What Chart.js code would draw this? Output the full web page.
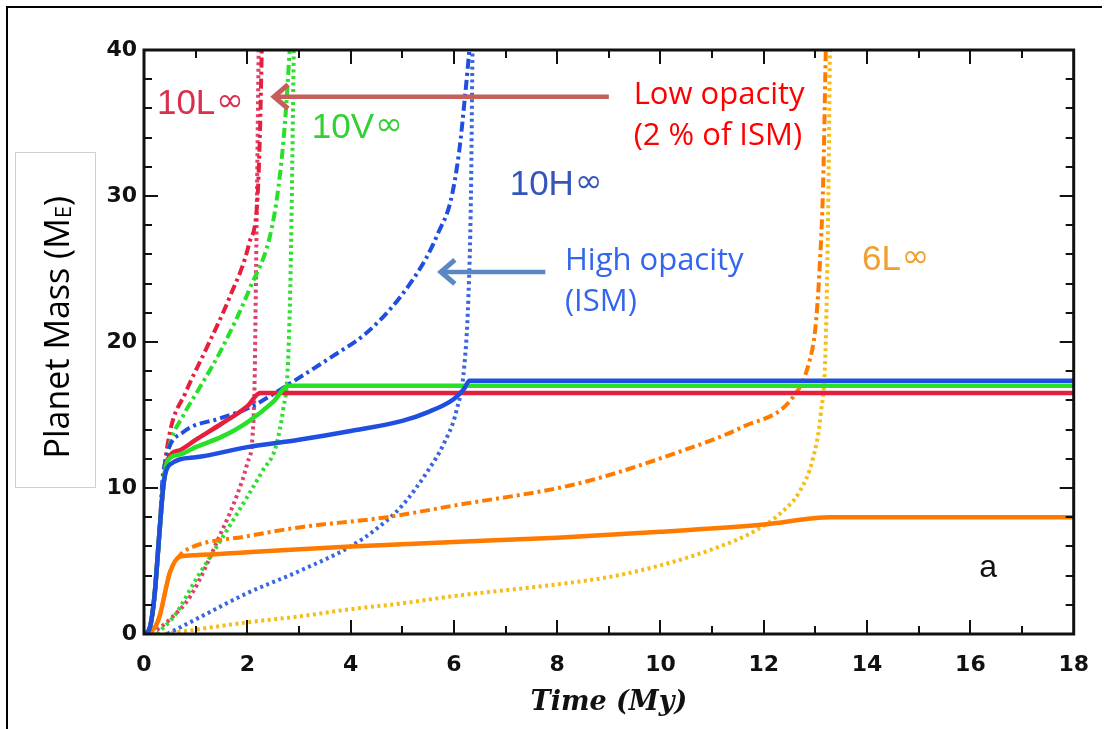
<!DOCTYPE html>
<html lang="en">
<head>
<meta charset="UTF-8">
<title>Planet Mass vs Time</title>
<script src="https://cdn.jsdelivr.net/npm/chart.js@4.4.1/dist/chart.umd.min.js"></script>
<style>
    body { margin: 0; background: #fff; }
    #wrap { position: relative; width: 1107px; height: 729px; overflow: hidden; }
    #frame {
        position: absolute; left: 6px; top: 6px; width: 1094px; height: 740px;
        border-top: 2px solid #000; border-left: 2px solid #000;
    }
    #ylabel {
        position: absolute; left: 15px; top: 152px; width: 79px; height: 334px;
        border: 1px solid #cfcfcf; display: flex; align-items: center; justify-content: center;
    }
    #ylabel span {
        writing-mode: vertical-rl; transform: rotate(180deg);
        font-family: "Open Sans", sans-serif; font-size: 34px; color: #000; white-space: nowrap;
        margin-top: 14px;
    }
    #ylabel sub { font-size: 22px; vertical-align: -6px; }
    canvas { position: absolute; left: 0; top: 0; }
</style>
</head>
<body>
<div id="wrap">
    <div id="frame"></div>
    <canvas id="massChart" width="1107" height="729"></canvas>
    <div id="ylabel"><span>Planet Mass (M<sub>E</sub>)</span></div>
</div>

<script>
    // axis ticks
    const timeTicks = [0, 2, 4, 6, 8, 10, 12, 14, 16, 18];
    const massTicks = [0, 10, 20, 30, 40];

    // 10L (low opacity) - core, envelope, total mass
    const t10L_core = [0, 0.1, 0.2, 0.3, 0.37, 0.45, 0.7, 1.0, 1.5, 2.0, 2.25, 18];
    const m10L_core = [0, 0.3, 2.5, 7, 10, 11.9, 12.6, 13.3, 14.4, 15.6, 16.5, 16.5];
    const t10L_env = [0, 0.1, 0.2, 0.3, 0.37, 0.5, 0.8, 1.2, 1.65, 2.04, 2.2, 2.25, 2.28];
    const m10L_env = [0, 0.3, 2.5, 7, 10.5, 13.8, 16.5, 19.5, 23, 26.8, 30, 35, 40];
    const t10L_tot = [0.15, 0.5, 0.9, 1.5, 1.8, 2.0, 2.1, 2.14, 2.17, 2.22];
    const m10L_tot = [0, 1, 2.6, 7, 9.5, 11.7, 13.5, 17, 25, 40];

    // 10V
    const t10V_core = [0, 0.1, 0.2, 0.3, 0.37, 0.45, 0.7, 1.0, 1.5, 2.0, 2.5, 2.8, 18];
    const m10V_core = [0, 0.3, 2.5, 7, 10, 11.8, 12.3, 12.8, 13.5, 14.5, 15.9, 17.0, 17.0];
    const t10V_env = [0, 0.1, 0.2, 0.3, 0.37, 0.5, 0.75, 1.1, 1.5, 2.04, 2.48, 2.65, 2.75, 2.82];
    const m10V_env = [0, 0.3, 2.5, 7, 10.5, 13, 14.9, 17, 19.5, 23.6, 27.9, 32, 36, 40];
    const t10V_tot = [0.25, 0.6, 1.0, 1.5, 2.0, 2.3, 2.55, 2.7, 2.78, 2.84, 2.9];
    const m10V_tot = [0, 1.3, 3.7, 6.5, 9.4, 11.2, 12.8, 15.5, 18, 25, 40];

    // 10H (high opacity)
    const t10H_core = [0, 0.1, 0.2, 0.3, 0.38, 0.5, 1.0, 2.0, 3.0, 4.0, 5.0, 5.5, 6.0, 6.2, 6.3, 18];
    const m10H_core = [0, 0.3, 2.5, 7, 10.3, 11.6, 12.1, 12.8, 13.3, 13.9, 14.6, 15.2, 16.1, 16.8, 17.35, 17.35];
    const t10H_env = [0, 0.1, 0.2, 0.3, 0.37, 0.75, 1.5, 2.04, 2.8, 3.64, 4.3, 4.92, 5.44, 5.7, 5.94, 6.1, 6.22, 6.3];
    const m10H_env = [0, 0.3, 2.5, 7, 11, 13.8, 14.8, 15.5, 17.1, 19, 20.6, 22.9, 25.6, 27.5, 29.7, 33, 37, 40];
    const t10H_tot = [0.45, 1, 2, 3, 4, 4.5, 5, 5.5, 5.8, 6.05, 6.2, 6.28, 6.33, 6.36];
    const m10H_tot = [0, 1, 2.8, 4.3, 6, 7.2, 8.8, 11.2, 13, 15.3, 18.3, 23, 30, 40];

    // 6L
    const t6L_core = [0, 0.2, 0.3, 0.5, 0.7, 1, 2, 4, 6, 8, 10, 12, 13.3, 18];
    const m6L_core = [0, 0.4, 1.2, 4.2, 5.3, 5.4, 5.6, 6.0, 6.3, 6.6, 7.0, 7.5, 8.0, 8.0];
    const t6L_env = [0, 0.2, 0.3, 0.5, 0.7, 0.9, 2, 3, 4.7, 6, 8.4, 10.3, 11.6, 12.56, 12.87, 13.0, 13.08, 13.15, 13.2];
    const m6L_env = [0, 0.4, 1.2, 4.2, 5.4, 5.9, 6.7, 7.3, 8.0, 8.8, 10.3, 12.4, 14.2, 16.2, 18.5, 21, 25, 31, 40];
    const t6L_tot = [0.4, 1, 2, 3, 4, 5, 6, 7, 8, 9, 10, 11, 11.8, 12.3, 12.7, 12.95, 13.1, 13.2, 13.25, 13.28];
    const m6L_tot = [0, 0.3, 0.8, 1.2, 1.7, 2.1, 2.6, 3.0, 3.4, 3.9, 4.7, 5.8, 7, 8.2, 9.8, 12, 15, 20, 30, 40];

    const toXY = (ts, ms) => ts.map((t, i) => ({ x: t, y: ms[i] }));

    const SOLID = { width: 4.5, dash: [] };
    const DASHDOT = { width: 4, dash: [10, 4, 3, 4] };
    const DOTTED = { width: 4, dash: [3, 3.5] };

    function series(ts, ms, color, style) {
        return {
            data: toXY(ts, ms),
            borderColor: color,
            borderWidth: style.width,
            borderDash: style.dash,
            cubicInterpolationMode: 'monotone',
            pointRadius: 0,
            fill: false
        };
    }

    const RED = '#e5203f', GREEN = '#27e027', BLUE = '#1f4fe0', ORANGE = '#ff7b00', GOLD = '#f6bd16';

    // first dataset is drawn on top
    const datasets = [
        series(t10H_core, m10H_core, BLUE, SOLID),
        series(t10V_core, m10V_core, GREEN, SOLID),
        series(t10L_core, m10L_core, RED, SOLID),
        series(t6L_core, m6L_core, ORANGE, SOLID),
        series(t10H_env, m10H_env, BLUE, DASHDOT),
        series(t10V_env, m10V_env, GREEN, DASHDOT),
        series(t10L_env, m10L_env, RED, DASHDOT),
        series(t6L_env, m6L_env, ORANGE, DASHDOT),
        series(t10H_tot, m10H_tot, '#3a66e0', DOTTED),
        series(t10V_tot, m10V_tot, '#30dd30', DOTTED),
        series(t10L_tot, m10L_tot, '#e0406a', DOTTED),
        series(t6L_tot, m6L_tot, GOLD, DOTTED)
    ];

    // labels placed in data units
    const curveLabels = [
        { text: '10L', x: 0.25, y: 35.6, color: '#d9304f' },
        { text: '10V', x: 3.25, y: 34.0, color: '#33d033' },
        { text: '10H', x: 7.08, y: 30.1, color: '#3456bb' },
        { text: '6L', x: 13.9, y: 24.9, color: '#f0a030' }
    ];

    const notes = [
        { lines: ['Low opacity', '(2 % of ISM)'], x: 9.48, y: 36.3, color: '#ff0000',
          arrow: { from: 9.0, to: 2.46, y: 36.8, color: '#c65e5a' } },
        { lines: ['High opacity', '(ISM)'], x: 8.15, y: 24.9, color: '#3366ee',
          arrow: { from: 7.77, to: 5.69, y: 24.8, color: '#5a88c2' } }
    ];

    // closed box with inward ticks, curve labels and annotations
    const boxFrame = {
        id: 'boxFrame',
        afterDraw(chart) {
            const ctx = chart.ctx;
            const a = chart.chartArea;
            const xs = chart.scales.x, ys = chart.scales.y;
            ctx.save();
            ctx.setLineDash([]);

            // tick marks as thin filled bars on all four sides
            ctx.fillStyle = '#111';
            for (let v = 0; v <= 18; v++) {
                const px = Math.round(xs.getPixelForValue(v));
                const len = v % 2 === 0 ? 14 : 8;
                ctx.fillRect(px - 1, a.bottom - len, 2, len);
                ctx.fillRect(px - 1, a.top, 2, len);
            }
            for (let v = 0; v <= 40; v += 2) {
                const py = Math.round(ys.getPixelForValue(v));
                const len = v % 10 === 0 ? 14 : 8;
                ctx.fillRect(a.left, py - 1, len, 2);
                ctx.fillRect(a.right - len, py - 1, len, 2);
            }
            ctx.strokeStyle = '#111';
            ctx.lineWidth = 3;
            ctx.strokeRect(a.left, a.top, a.right - a.left, a.bottom - a.top);

            ctx.textBaseline = 'alphabetic';
            ctx.textAlign = 'left';
            curveLabels.forEach(l => {
                const px = xs.getPixelForValue(l.x), py = ys.getPixelForValue(l.y);
                ctx.fillStyle = l.color;
                ctx.font = '35px "Liberation Sans", Arial, sans-serif';
                ctx.fillText(l.text, px, py);
                const w = ctx.measureText(l.text).width;
                ctx.font = '33px "DejaVu Sans", sans-serif';
                ctx.fillText('\u221E', px + w + 1, py - 3);
            });

            ctx.fillStyle = '#111';
            ctx.font = '32px "Liberation Sans", Arial, sans-serif';
            ctx.fillText('a', xs.getPixelForValue(16.17), ys.getPixelForValue(3.9));

            notes.forEach(n => {
                const ar = n.arrow;
                const x0 = xs.getPixelForValue(ar.from), x1 = xs.getPixelForValue(ar.to);
                const ay = ys.getPixelForValue(ar.y);
                ctx.strokeStyle = ar.color;
                ctx.lineWidth = 4.5;
                ctx.lineCap = 'butt';
                ctx.beginPath();
                ctx.moveTo(x0, ay); ctx.lineTo(x1 + 3, ay);
                ctx.stroke();
                ctx.lineWidth = 5;
                ctx.lineJoin = 'miter';
                ctx.beginPath();
                ctx.moveTo(x1 + 17, ay - 12); ctx.lineTo(x1 + 3, ay); ctx.lineTo(x1 + 17, ay + 12);
                ctx.stroke();

                ctx.fillStyle = n.color;
                ctx.font = '31px "Open Sans", sans-serif';
                const tx = xs.getPixelForValue(n.x);
                let ty = ys.getPixelForValue(n.y);
                n.lines.forEach(line => { ctx.fillText(line, tx, ty); ty += 41; });
            });

            ctx.restore();
        }
    };

    new Chart(document.getElementById('massChart'), {
        type: 'line',
        data: { datasets },
        options: {
            responsive: false,
            animation: false,
            layout: { padding: { top: 50, right: 27, left: 0, bottom: 0 } },
            plugins: { legend: { display: false }, tooltip: { enabled: false } },
            scales: {
                x: {
                    type: 'linear', min: 0, max: 18,
                    afterBuildTicks: s => { s.ticks = timeTicks.map(v => ({ value: v })); },
                    afterFit: s => { s.height = 95; },
                    grid: { display: false, drawTicks: false },
                    border: { display: false },
                    ticks: {
                        color: '#111', padding: 18, maxRotation: 0, autoSkip: false,
                        font: { family: '"DejaVu Sans", sans-serif', weight: 'bold', size: 22 }
                    },
                    title: {
                        display: true, text: 'Time (My)', color: '#111',
                        font: { family: '"DejaVu Serif", serif', style: 'italic', weight: 'bold', size: 27 },
                        padding: { top: 0, bottom: 10 }
                    }
                },
                y: {
                    type: 'linear', min: 0, max: 40,
                    afterBuildTicks: s => { s.ticks = massTicks.map(v => ({ value: v })); },
                    afterFit: s => { s.width = 144; },
                    grid: { display: false, drawTicks: false },
                    border: { display: false },
                    ticks: {
                        color: '#111', padding: 7,
                        font: { family: '"DejaVu Sans", sans-serif', weight: 'bold', size: 22 }
                    }
                }
            }
        },
        plugins: [boxFrame]
    });
</script>
</body>
</html>
